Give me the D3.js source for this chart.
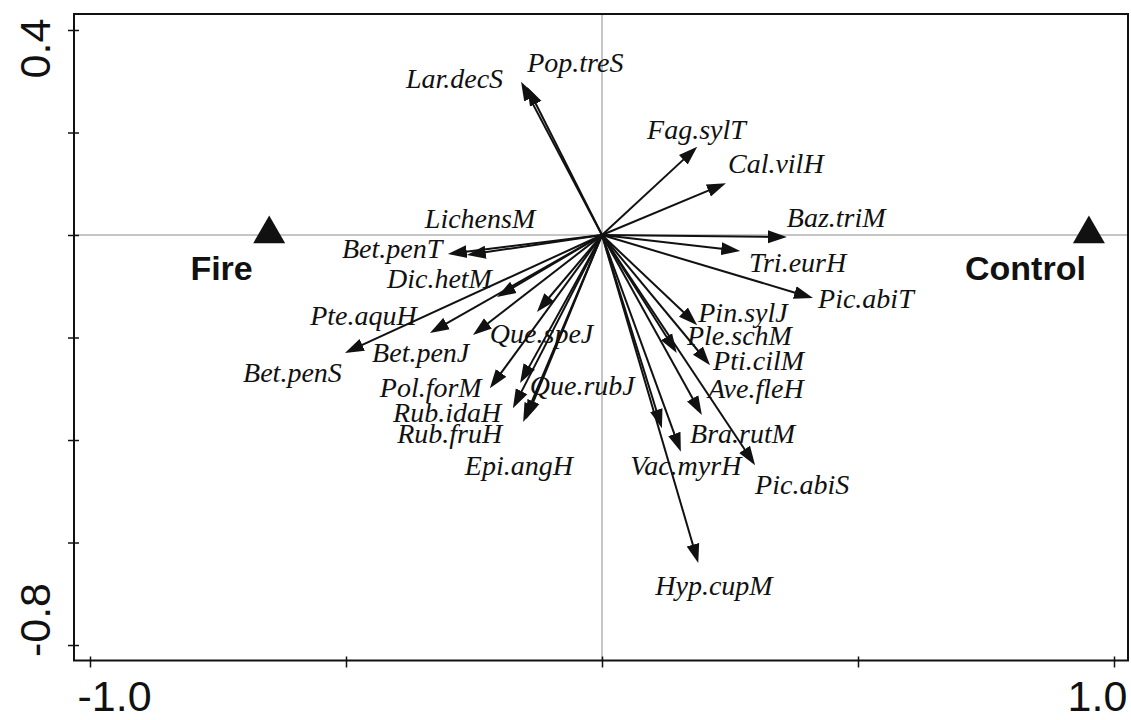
<!DOCTYPE html>
<html>
<head>
<meta charset="utf-8">
<script src="https://cdn.jsdelivr.net/npm/d3@7"></script>
<style>
  body { margin: 0; background: #fff; }
  .tickText { font-family: "Liberation Sans", Arial, sans-serif; font-size: 43px; fill: #111; }
  .spText { font-family: "Liberation Serif", "Times New Roman", serif; font-style: italic; font-size: 28px; fill: #111; }
  .grpText { font-family: "Liberation Sans", Arial, sans-serif; font-weight: bold; font-size: 34px; fill: #111; }
</style>
</head>
<body>
<div id="chart"></div>
<script>
// species arrows (RDA scores)
var species = ["Lar.decS", "Pop.treS", "Fag.sylT", "Cal.vilH", "LichensM", "Baz.triM", "Bet.penT",
  "Tri.eurH", "Dic.hetM", "Pic.abiT", "Pte.aquH", "Pin.sylJ", "Ple.schM", "Que.speJ", "Bet.penJ",
  "Pti.cilM", "Bet.penS", "Pol.forM", "Que.rubJ", "Ave.fleH", "Rub.idaH", "Bra.rutM", "Rub.fruH",
  "Vac.myrH", "Epi.angH", "Pic.abiS", "Hyp.cupM"];
var axis1 = [-0.158, -0.146, 0.186, 0.242, -0.264, 0.361, -0.301,
  0.270, -0.205, 0.412, -0.252, 0.186, 0.146, -0.127, -0.336,
  0.211, -0.502, -0.219, -0.160, 0.195, -0.174, 0.154, -0.154,
  0.117, -0.148, 0.299, 0.188];
var axis2 = [0.299, 0.289, 0.172, 0.101, -0.039, -0.004, -0.037,
  -0.031, -0.121, -0.123, -0.195, -0.176, -0.230, -0.150, -0.191,
  -0.254, -0.230, -0.299, -0.289, -0.351, -0.338, -0.423, -0.365,
  -0.377, -0.359, -0.449, -0.640];
// where each name was written (left end of text, baseline)
var labelX = [-0.383, -0.146, 0.088, 0.246, -0.346, 0.361, -0.508,
  0.287, -0.420, 0.422, -0.570, 0.188, 0.166, -0.219, -0.449,
  0.217, -0.701, -0.434, -0.141, 0.207, -0.408, 0.172, -0.400,
  0.055, -0.268, 0.299, 0.104];
var labelY = [0.287, 0.318, 0.187, 0.121, 0.014, 0.016, -0.045,
  -0.072, -0.103, -0.142, -0.176, -0.170, -0.215, -0.211, -0.248,
  -0.263, -0.287, -0.316, -0.312, -0.318, -0.365, -0.406, -0.406,
  -0.468, -0.468, -0.505, -0.702];

// treatment centroids
var groups = ["Fire", "Control"];
var groupX = [-0.650, 0.951];
var groupY = [0.0, 0.0];
var groupLabelX = [-0.743, 0.827];
var groupLabelY = [-0.088, -0.088];

var xTicks = [-1.0, -0.5, 0, 0.5, 1.0];
var yTicks = [0.4, 0.2, 0, -0.2, -0.4, -0.6, -0.8];

var svgWidth = 1131;
var svgHeight = 720;

var plot = { left: 74, top: 14, right: 1128, bottom: 660.5 };

var svg = d3.select("#chart")
  .append("svg")
  .attr("width", svgWidth)
  .attr("height", svgHeight);

var xScale = d3.scaleLinear()
  .domain([-1.03125, 1.02734])
  .range([plot.left, plot.right]);

var yScale = d3.scaleLinear()
  .domain([-0.8302, 0.4312])
  .range([plot.bottom, plot.top]);

// zero lines
svg.append("line")
  .attr("x1", plot.left).attr("x2", plot.right)
  .attr("y1", yScale(0)).attr("y2", yScale(0))
  .attr("stroke", "#8c8c8c").attr("stroke-width", 1);
svg.append("line")
  .attr("x1", xScale(0)).attr("x2", xScale(0))
  .attr("y1", plot.top).attr("y2", plot.bottom)
  .attr("stroke", "#8c8c8c").attr("stroke-width", 1);

// arrow head
svg.append("defs").append("marker")
  .attr("id", "head")
  .attr("viewBox", "0 -7 19 14")
  .attr("refX", 9)
  .attr("refY", 0)
  .attr("markerUnits", "userSpaceOnUse")
  .attr("markerWidth", 19)
  .attr("markerHeight", 14)
  .attr("orient", "auto")
  .append("path")
  .attr("d", "M0,-6.5L19,0L0,6.5Z")
  .attr("fill", "#111");

var arrows = species.map(function(s, i) {
  return { name: s, x: axis1[i], y: axis2[i], lx: labelX[i], ly: labelY[i] };
});

var x0 = xScale(0), y0 = yScale(0);

svg.selectAll(".arrow")
  .data(arrows)
  .enter()
  .append("line")
  .attr("class", "arrow")
  .attr("x1", x0)
  .attr("y1", y0)
  .attr("x2", function(d) {
    var dx = xScale(d.x) - x0, dy = yScale(d.y) - y0;
    var len = Math.sqrt(dx * dx + dy * dy);
    return x0 + dx * (len - 10) / len;
  })
  .attr("y2", function(d) {
    var dx = xScale(d.x) - x0, dy = yScale(d.y) - y0;
    var len = Math.sqrt(dx * dx + dy * dy);
    return y0 + dy * (len - 10) / len;
  })
  .attr("stroke", "#111")
  .attr("stroke-width", 2)
  .attr("marker-end", "url(#head)");

svg.selectAll(".spText")
  .data(arrows)
  .enter()
  .append("text")
  .attr("class", "spText")
  .attr("x", d => xScale(d.lx))
  .attr("y", d => yScale(d.ly))
  .text(d => d.name);

// centroids
var grp = groups.map(function(g, i) {
  return { name: g, x: groupX[i], y: groupY[i], lx: groupLabelX[i], ly: groupLabelY[i] };
});

svg.selectAll(".centroid")
  .data(grp)
  .enter()
  .append("path")
  .attr("class", "centroid")
  .attr("d", d3.symbol(d3.symbolTriangle, 443))
  .attr("transform", d => `translate(${xScale(d.x)}, ${yScale(d.y) - 1})`)
  .attr("fill", "#111");

svg.selectAll(".grpText")
  .data(grp)
  .enter()
  .append("text")
  .attr("class", "grpText")
  .attr("x", d => xScale(d.lx))
  .attr("y", d => yScale(d.ly))
  .attr("text-anchor", "middle")
  .text(d => d.name);

// frame
svg.append("rect")
  .attr("x", plot.left)
  .attr("y", plot.top)
  .attr("width", plot.right - plot.left)
  .attr("height", plot.bottom - plot.top)
  .attr("fill", "none")
  .attr("stroke", "#111")
  .attr("stroke-width", 2);

// axes: ticks cross the frame slightly
var xAxis = d3.axisBottom(xScale)
  .tickValues(xTicks)
  .tickSize(7)
  .tickFormat(d => (d === -1 || d === 1) ? d.toFixed(1) : "");

var xg = svg.append("g")
  .attr("transform", `translate(0, ${plot.bottom - 4})`)
  .call(xAxis);
xg.select(".domain").remove();
xg.selectAll(".tick line").attr("y2", 11).attr("stroke", "#111").attr("stroke-width", 1.5);
xg.selectAll(".tick text")
  .attr("class", "tickText")
  .attr("y", 54)
  .attr("dy", null)
  .attr("dx", d => d < 0 ? 24 : -17);

var yAxis = d3.axisLeft(yScale)
  .tickValues(yTicks)
  .tickSize(6)
  .tickFormat(d => (d === 0.4 || d === -0.8) ? d.toFixed(1) : "");

var yg = svg.append("g")
  .attr("transform", `translate(${plot.left + 5}, 0)`)
  .call(yAxis);
yg.select(".domain").remove();
yg.selectAll(".tick line").attr("x2", -11).attr("stroke", "#111").attr("stroke-width", 1.5);
yg.selectAll(".tick text")
  .attr("class", "tickText")
  .attr("x", null)
  .attr("dy", null)
  .attr("text-anchor", "middle")
  .attr("transform", d => `translate(-29, ${d > 0 ? 18 : -25.5}) rotate(-90)`);
</script>
</body>
</html>
